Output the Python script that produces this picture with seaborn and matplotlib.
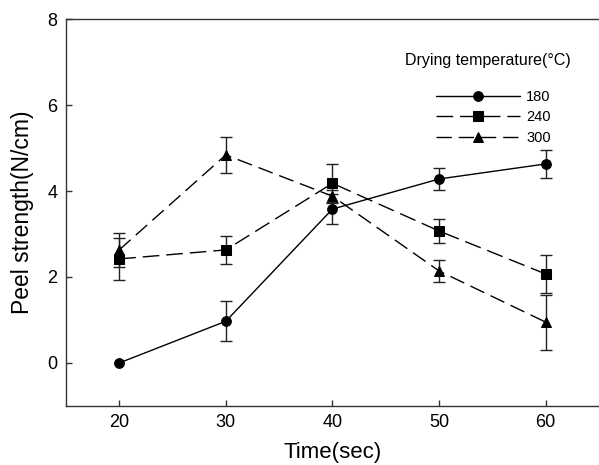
import numpy as np
import pandas as pd
import matplotlib
matplotlib.use("Agg")
import matplotlib.pyplot as plt
import seaborn as sns

# values
time_sec = [20, 30, 40, 50, 60]
temps = ["180", "240", "300"]
peel_180 = [0.0, 0.97, 3.58, 4.28, 4.63]
err_180 = [0.0, 0.47, 0.35, 0.26, 0.33]
peel_240 = [2.42, 2.63, 4.18, 3.07, 2.07]
err_240 = [0.48, 0.33, 0.44, 0.28, 0.45]
peel_300 = [2.63, 4.84, 3.88, 2.14, 0.95]
err_300 = [0.40, 0.41, 0.15, 0.25, 0.64]

markers = {"180": "o", "240": "s", "300": "^"}
dashes = {"180": "", "240": (12, 5), "300": (11, 5)}

rows = []
for t, vals, errs in zip(temps, [peel_180, peel_240, peel_300], [err_180, err_240, err_300]):
    for x, v, e in zip(time_sec, vals, errs):
        rows.append({"time": x, "peel": v, "err": e, "temp": t})
df = pd.DataFrame(rows)

sns.set_style("ticks")
plt.rcParams["font.family"] = ["Liberation Sans", "DejaVu Sans"]
plt.rcParams["xtick.direction"] = "in"
plt.rcParams["ytick.direction"] = "in"
plt.rcParams["text.color"] = "black"
plt.rcParams["axes.labelcolor"] = "black"
plt.rcParams["xtick.labelcolor"] = "black"
plt.rcParams["ytick.labelcolor"] = "black"

fig = plt.figure(figsize=(5.99, 4.65), dpi=100)
ax = fig.add_axes([0.110, 0.127, 0.890, 0.832])

# error bars first so markers sit on top
for t in temps:
    sub = df[df["temp"] == t]
    sub = sub[sub["err"] > 0]
    ax.errorbar(sub["time"], sub["peel"], yerr=sub["err"], fmt="none",
                ecolor="#222222", elinewidth=1.0, capsize=4.5, capthick=1.0, zorder=2)

sns.lineplot(data=df, x="time", y="peel", hue="temp", style="temp",
             markers=markers, dashes=dashes, palette=["black"] * 3,
             markersize=7, markeredgecolor="black", linewidth=1.0,
             ax=ax, zorder=3)

ax.set_xlim(15, 65)
ax.set_ylim(-1, 8)
ax.set_xticks([20, 30, 40, 50, 60])
ax.set_yticks([0, 2, 4, 6, 8])
ax.tick_params(labelsize=13, length=4, width=1, color="#333333", pad=6)
ax.set_xlabel("Time(sec)", fontsize=16, labelpad=8)
ax.set_ylabel("Peel strength(N/cm)", fontsize=16.5, labelpad=10)

for s in ["left", "top", "bottom"]:
    ax.spines[s].set_color("#333333")
    ax.spines[s].set_linewidth(1.0)
ax.spines["right"].set_visible(False)

handles, labels = ax.get_legend_handles_labels()
ax.legend(handles, labels, frameon=False,
          loc="upper left", bbox_to_anchor=(0.669, 0.851), fontsize=10.5,
          handlelength=5.8, numpoints=1,
          labelspacing=0.45, handletextpad=0.4)
ax.text(0.637, 0.892, "Drying temperature(\u00b0C)", transform=ax.transAxes,
        fontsize=11.5, ha="left", va="center")

fig.savefig("out.png", dpi=100)
